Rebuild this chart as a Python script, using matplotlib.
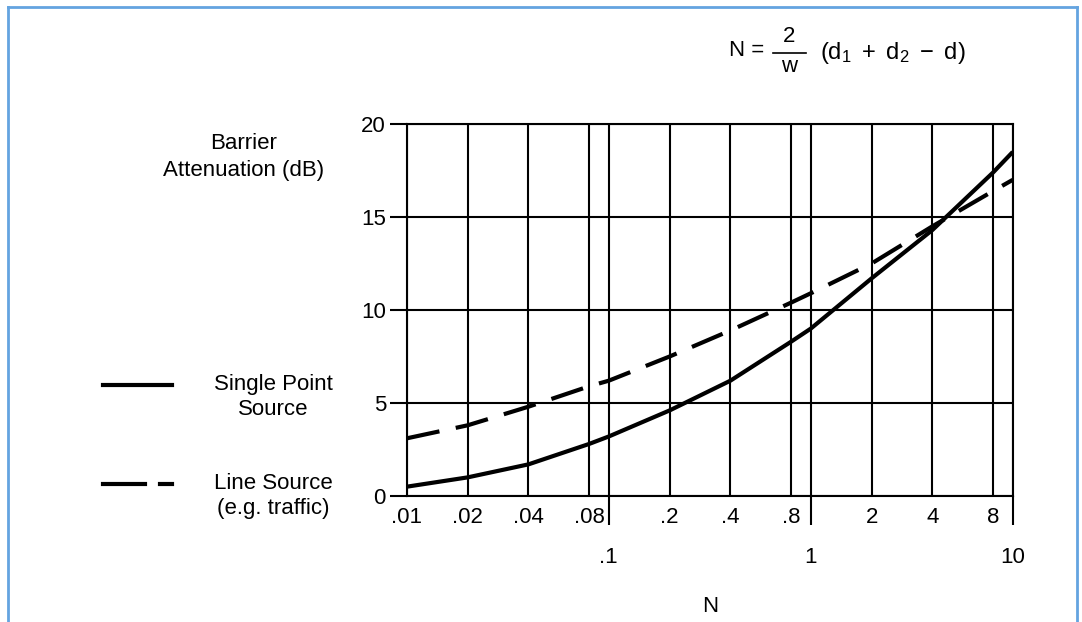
import numpy as np
import matplotlib
matplotlib.use('Agg')
import matplotlib.pyplot as plt
from matplotlib.lines import Line2D
from matplotlib.ticker import FixedLocator, FixedFormatter

plt.rcParams['font.family'] = ['Liberation Sans', 'DejaVu Sans']
plt.rcParams['mathtext.fontset'] = 'custom'
plt.rcParams['mathtext.rm'] = 'Liberation Sans'
plt.rcParams['mathtext.it'] = 'Liberation Sans'

# values
n_vals = [0.01, 0.02, 0.04, 0.08, 0.1, 0.2, 0.4, 0.8, 1, 2, 4, 8, 10]
point_db = [0.5, 1.0, 1.7, 2.8, 3.2, 4.6, 6.2, 8.3, 9.0, 11.7, 14.3, 17.4, 18.5]
line_db = [3.1, 3.8, 4.8, 5.9, 6.2, 7.5, 8.9, 10.4, 10.9, 12.5, 14.5, 16.4, 17.0]

minor_x = [0.01, 0.02, 0.04, 0.08, 0.2, 0.4, 0.8, 2, 4, 8]
minor_lbl = ['.01', '.02', '.04', '.08', '.2', '.4', '.8', '2', '4', '8']
major_x = [0.1, 1, 10]
major_lbl = ['.1', '1', '10']
y_ticks = [0, 5, 10, 15, 20]

fs = 16
fig = plt.figure(figsize=(10.82, 6.22), dpi=100)
ax = fig.add_axes([0.376, 0.2026, 0.560, 0.598])

ax.plot(n_vals, point_db, 'k-', lw=3.0, solid_capstyle='butt', solid_joinstyle='round')
ax.plot(n_vals, line_db, 'k-', lw=3.0, dashes=(8, 4), dash_capstyle='butt')

ax.set_xscale('log')
ax.set_xlim(0.01, 10)
ax.set_ylim(0, 20)

ax.xaxis.set_major_locator(FixedLocator(major_x))
ax.xaxis.set_major_formatter(FixedFormatter(major_lbl))
ax.xaxis.set_minor_locator(FixedLocator(minor_x))
ax.xaxis.set_minor_formatter(FixedFormatter(minor_lbl))
ax.tick_params(axis='x', which='major', length=21, width=1.5, pad=16, labelsize=fs, direction='out')
ax.tick_params(axis='x', which='minor', length=0, pad=8, labelsize=fs)
ax.set_yticks(y_ticks)
ax.tick_params(axis='y', length=12, width=1.5, pad=3, labelsize=fs, direction='out')

ax.grid(True, which='both', axis='x', color='k', lw=1.5)
ax.grid(True, which='major', axis='y', color='k', lw=1.5)
for s in ax.spines.values():
    s.set_linewidth(1.5)
ax.set_axisbelow(True)

ax.set_xlabel('N', fontsize=fs, labelpad=20)

# y label block at upper left
fig.text(244 / 1082, 1 - 157 / 622, 'Barrier\nAttenuation (dB)', ha='center', va='center',
         fontsize=fs, linespacing=1.35)

# legend drawn by hand
fig.add_artist(Line2D([103 / 1082, 172 / 1082], [1 - 385 / 622] * 2, color='k', lw=3.0))
fig.add_artist(Line2D([103 / 1082, 145 / 1082], [1 - 484 / 622] * 2, color='k', lw=3.0))
fig.add_artist(Line2D([160 / 1082, 172 / 1082], [1 - 484 / 622] * 2, color='k', lw=3.0))
fig.text(273 / 1082, 1 - 397 / 622, 'Single Point\nSource', ha='center', va='center',
         fontsize=fs, linespacing=1.3)
fig.text(273 / 1082, 1 - 496 / 622, 'Line Source\n(e.g. traffic)', ha='center', va='center',
         fontsize=fs, linespacing=1.3)

# formula at the top
fig.text(729 / 1082, 1 - 50 / 622, 'N =', ha='left', va='center', fontsize=fs)
fig.text(789 / 1082, 1 - 37 / 622, '2', ha='center', va='center', fontsize=fs)
fig.add_artist(Line2D([773 / 1082, 806 / 1082], [1 - 53 / 622] * 2, color='k', lw=1.2))
fig.text(789 / 1082, 1 - 66 / 622, 'w', ha='center', va='center', fontsize=fs)
fig.text(820 / 1082, 1 - 53 / 622, r'$\mathrm{(d_1\ +\ d_2\ -\ d)}$', ha='left', va='center',
         fontsize=fs + 1)

# light blue page border
bc = '#64a4e0'
fig.add_artist(Line2D([7.5 / 1082, 7.5 / 1082], [0, 1 - 6.5 / 622], color=bc, lw=2))
fig.add_artist(Line2D([7.5 / 1082, 1077 / 1082], [1 - 6.5 / 622] * 2, color=bc, lw=2))
fig.add_artist(Line2D([1077 / 1082, 1077 / 1082], [0, 1 - 6.5 / 622], color=bc, lw=2))

fig.savefig('out.png', dpi=100, facecolor='white')
